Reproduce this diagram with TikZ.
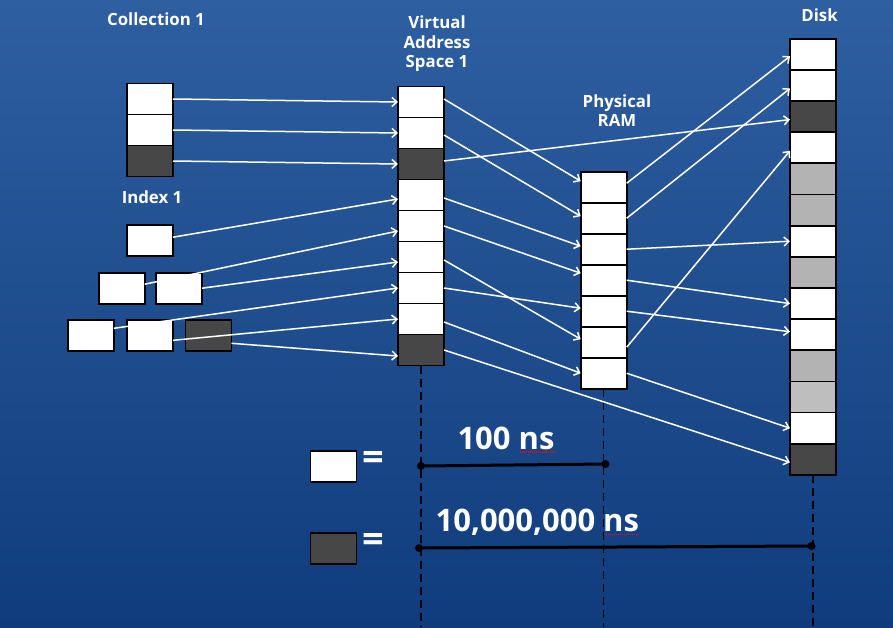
\documentclass[tikz,border=0pt]{standalone}
\usepackage{fontspec}
\setmainfont{Open Sans}
\usetikzlibrary{arrows.meta}

\definecolor{bgtop}{RGB}{46,95,160}
\definecolor{bgbot}{RGB}{16,60,125}
\definecolor{darkcell}{RGB}{71,71,71}
\definecolor{graycell}{RGB}{179,179,179}
\definecolor{lightcell}{RGB}{190,190,190}

\tikzset{
  cell/.style={draw=black, line width=1.8pt, fill=white, minimum width=46pt, minimum height=31pt, inner sep=0pt, outer sep=0pt},
  darkbox/.style={cell, fill=darkcell},
  graybox/.style={cell, fill=graycell},
  lightbox/.style={cell, fill=lightcell},
  ptr/.style={white, line width=1.5pt, -{Straight Barb[length=5pt,width=9pt]}},
  lbl/.style={text=white, font=\bfseries\fontsize{16.8}{19.5}\selectfont, align=center, inner sep=0pt},
  big/.style={text=white, font=\bfseries\fontsize{31}{34}\selectfont, inner sep=0pt},
  timeline/.style={black, line width=3pt},
  guide/.style={black, line width=1.5pt, dash pattern=on 8pt off 5pt},
  spell/.style={red, line width=1.2pt, dash pattern=on 1pt off 1pt},
}

\begin{document}
\begin{tikzpicture}[x=1pt,y=-1pt]
\shade[top color=bgtop, bottom color=bgbot] (0,0) rectangle (893,627);
\useasboundingbox (0,0) rectangle (893,627);

\node[lbl, anchor=base] (coltitle) at (156,25.7) {Collection 1};
\node[lbl, anchor=base] (idxtitle) at (152,203.3) {Index 1};
\node[lbl] (vastitle) at (437,44) {Virtual\\Address\\Space 1};
\node[lbl] (ramtitle) at (617,110.5) {Physical\\RAM};
\node[lbl, anchor=base] (disktitle) at (819.5,21) {Disk};

% columns
\foreach \s [count=\i] in {cell,cell,darkbox}
  \node[\s] (c\i) at (150,68+31*\i) {};
\foreach \s [count=\i] in {cell,cell,darkbox,cell,cell,cell,cell,cell,darkbox}
  \node[\s] (v\i) at (421,71+31*\i) {};
\foreach \s [count=\i] in {cell,cell,cell,cell,cell,cell,cell}
  \node[\s] (r\i) at (603.7,156.2+31*\i) {};
\foreach \s [count=\i] in {cell,cell,darkbox,cell,graybox,graybox,cell,graybox,cell,cell,graybox,lightbox,cell,darkbox}
  \node[\s, minimum height=31.2pt] (d\i) at (813,23.1+31.16*\i) {};

% index
\node[cell] (i1) at (150,240.2) {};
\node[cell] (i2) at (121.7,288.2) {};
\node[cell] (i3) at (179,288.2) {};
\node[cell] (i4) at (90.8,335.3) {};
\node[cell] (i5) at (150,335.3) {};
\node[darkbox] (i6) at (208.5,335.3) {};

% timing
\coordinate (vend) at (421,627);
\coordinate (rend) at (603.7,627);
\coordinate (dend) at (813,627);
\draw[guide] (v9.south) -- (vend);
\draw[guide] (r7.south) -- (rend);
\draw[guide] (d14.south) -- (dend);

\node[cell] (fast) at (333.5,466.4) {};
\node[darkbox] (slow) at (333.5,548.5) {};
\node[big, font=\bfseries\fontsize{38}{40}\selectfont] (eqfast) at (373.5,461) {=};
\node[big, font=\bfseries\fontsize{38}{40}\selectfont] (eqslow) at (373.5,543) {=};

\coordinate (t1a) at (421,466);
\coordinate (t1b) at (605.5,464);
\coordinate (t2a) at (419,548);
\coordinate (t2b) at (811.5,546);
\draw[timeline] (t1a) -- (t1b);
\draw[timeline] (t2a) -- (t2b);
\foreach \p in {t1a,t1b,t2a,t2b}
  \fill (\p) circle (4pt);

\node[big, anchor=base] (fasttime) at (506,449) {100 ns};
\node[big, anchor=base] (slowtime) at (537.3,531.7) {10,000,000 ns};
\draw[spell] ([xshift=-35pt,yshift=-3pt]fasttime.base east) -- ([yshift=-3pt]fasttime.base east);
\draw[spell] ([xshift=-35pt,yshift=-3pt]slowtime.base east) -- ([yshift=-3pt]slowtime.base east);

% pointers
\draw[ptr] (c1.east) -- (v1.west);
\draw[ptr] (c2.east) -- (v2.west);
\draw[ptr] (c3.east) -- (v3.west);
\draw[ptr] ([yshift=3pt]i1.east) -- ([yshift=-4pt]v4.west);
\draw[ptr] ([yshift=4pt]i2.east) -- ([yshift=-5pt]v5.west);
\draw[ptr] (i3.east) -- ([yshift=-5pt]v6.west);
\draw[ptr] ([yshift=7pt]i4.east) -- (v7.west);
\draw[ptr] ([yshift=-5pt]i5.east) -- (v8.west);
\draw[ptr] ([yshift=-8pt]i6.east) -- ([yshift=-6pt]v9.west);

\draw[ptr] ([yshift=3pt]v1.east) -- ([yshift=6pt]r1.west);
\draw[ptr] ([yshift=-2pt]v2.east) -- ([yshift=2pt]r2.west);
\draw[ptr] ([yshift=3pt]v3.east) -- ([yshift=-3pt]d3.west);
\draw[ptr] ([yshift=-3pt]v4.east) -- ([yshift=3pt]r3.west);
\draw[ptr] (v5.east) -- ([yshift=7pt]r4.west);
\draw[ptr] ([yshift=-3pt]v6.east) -- ([yshift=3pt]r6.west);
\draw[ptr] (v7.east) -- ([yshift=3pt]r5.west);
\draw[ptr] ([yshift=-3pt]v8.east) -- (r7.west);
\draw[ptr] (v9.east) -- ([yshift=-3pt]d14.west);

\draw[ptr] ([yshift=4pt]r1.east) -- ([yshift=-2pt]d1.west);
\draw[ptr] (r2.east) -- ([yshift=-3pt]d2.west);
\draw[ptr] (r3.east) -- (d7.west);
\draw[ptr] (r4.east) -- (d9.west);
\draw[ptr] (r5.east) -- ([yshift=3pt]d10.west);
\draw[ptr] ([yshift=-5pt]r6.east) -- ([yshift=-3pt]d4.west);
\draw[ptr] (r7.east) -- (d13.west);
\end{tikzpicture}
\end{document}
